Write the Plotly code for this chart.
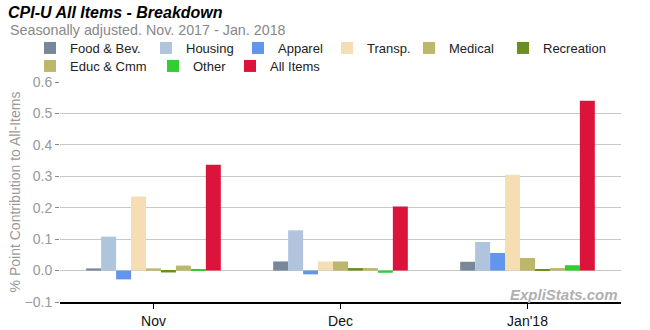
import plotly.graph_objects as go

categories = ["Nov", "Dec", "Jan'18"]
series_names = ["Food & Bev.", "Housing", "Apparel", "Transp.", "Medical",
                "Recreation", "Educ & Cmm", "Other", "All Items"]
food = [0.007, 0.029, 0.028]
housing = [0.108, 0.128, 0.091]
apparel = [-0.028, -0.012, 0.056]
transp = [0.236, 0.029, 0.305]
medical = [0.007, 0.029, 0.040]
recreation = [-0.006, 0.008, 0.002]
educ = [0.016, 0.008, 0.008]
other = [0.004, -0.007, 0.017]
all_items = [0.337, 0.204, 0.540]
values = [food, housing, apparel, transp, medical, recreation, educ, other, all_items]
colors = ["#778899", "#B0C4DE", "#6495ED", "#F5DEB3", "#BDB76B",
          "#6B8E23", "#BDB76B", "#32CD32", "#DC143C"]

FONT = "Arial, Liberation Sans, sans-serif"
W, H = 650, 330
L, R, T, B = 60, 29, 82, 28
PW, PH = W - L - R, H - T - B


def px(x):
    return (x - L) / PW


def py(y):
    return (H - B - y) / PH


# legend placement (px of text start, row y)
leg_pos = [(64, 48), (180, 48), (272, 48), (361, 48), (443, 48), (537, 48),
           (64, 66), (187, 66), (264, 66)]

fig = go.Figure()
layout_legends = {}
for i, (name, vals, col) in enumerate(zip(series_names, values, colors)):
    lname = "legend" if i == 0 else f"legend{i+1}"
    fig.add_trace(go.Bar(x=categories, y=vals, name=name, marker_color=col,
                         marker_line_width=0, legend=lname))
    tx, ty = leg_pos[i]
    layout_legends[lname] = dict(
        x=px(tx - 34), y=py(ty), xanchor="left", yanchor="middle",
        bgcolor="rgba(0,0,0,0)", borderwidth=0,
        font=dict(family=FONT, size=13, color="#222"),
        itemclick=False, itemdoubleclick=False)

fig.update_layout(
    width=W, height=H,
    margin=dict(l=L, r=R, t=T, b=B, autoexpand=False),
    paper_bgcolor="white", plot_bgcolor="white",
    barmode="group", bargap=0.28, bargroupgap=0,
    font=dict(family=FONT, size=13, color="#222"),
    showlegend=True,
    **layout_legends,
    xaxis=dict(showgrid=False, ticks="outside", ticklen=5, tickcolor="#000",
               showline=True, linecolor="#000", linewidth=1.5,
               automargin=False,
               tickfont=dict(family=FONT, size=14, color="#111")),
    yaxis=dict(range=[-0.1, 0.6], dtick=0.1, tickformat=".1f",
               showgrid=True, gridcolor="#c8c8c8", gridwidth=1,
               zeroline=True, zerolinecolor="#c8c8c8", zerolinewidth=1,
               ticks="outside", ticklen=4, tickcolor="#888", automargin=False,
               tickfont=dict(family=FONT, size=14, color="#999"),
               title=dict(text="% Point Contribution to All-Items",
                          font=dict(family=FONT, size=14, color="#999"),
                          standoff=0)),
    annotations=[
        dict(text="<b><i>CPI-U All Items - Breakdown</i></b>", xref="paper", yref="paper",
             x=px(6), y=py(12), showarrow=False, xanchor="left", yanchor="middle",
             font=dict(family=FONT, size=16, color="#000")),
        dict(text="Seasonally adjusted. Nov. 2017 - Jan. 2018", xref="paper", yref="paper",
             x=px(8), y=py(30), showarrow=False, xanchor="left", yanchor="middle",
             font=dict(family=FONT, size=14.3, color="#888")),
        dict(text="<b><i>ExpliStats.com</i></b>", xref="paper", yref="paper",
             x=px(620), y=py(294), showarrow=False, xanchor="right", yanchor="middle",
             font=dict(family=FONT, size=15, color="#b0b0b0")),
    ],
)

fig.write_html("out.html")
